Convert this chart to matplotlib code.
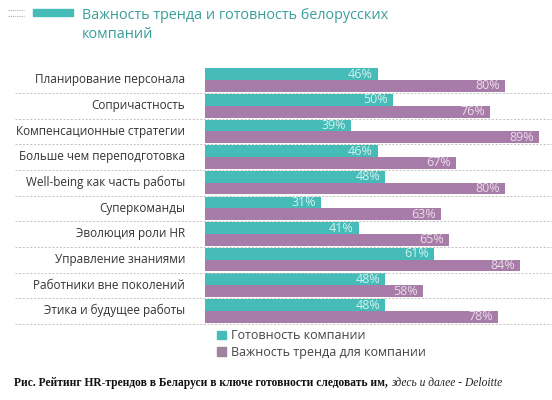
import numpy as np
import matplotlib.pyplot as plt
from matplotlib.patches import Patch
from matplotlib.transforms import blended_transform_factory

# data
categories = ['Планирование персонала', 'Сопричастность', 'Компенсационные стратегии',
              'Больше чем переподготовка', 'Well-being как часть работы', 'Суперкоманды',
              'Эволюция роли HR', 'Управление знаниями', 'Работники вне поколений',
              'Этика и будущее работы']
readiness = [46, 50, 39, 46, 48, 31, 41, 61, 48, 48]
importance = [80, 76, 89, 67, 80, 63, 65, 84, 58, 78]
series_names = ['Готовность компании', 'Важность тренда для компании']

teal = '#45bcb7'
purple = '#a87ca8'
plt.rcParams['font.family'] = ['Open Sans', 'DejaVu Sans']

fig = plt.figure(figsize=(5.52, 4), dpi=100)
ax = fig.add_axes([205/552, 1-324/400, 1-205/552, (324-67.5)/400])

y = np.arange(len(categories))
h = 0.46
ax.barh(y-0.24, readiness, height=h, color=teal)
ax.barh(y+0.22, importance, height=h, color=purple)
ax.set_xlim(0, 347/3.75)
ax.set_ylim(len(categories)-0.5, -0.5)
ax.axis('off')

for i in range(len(categories)):
    ax.text(readiness[i]-1.3, y[i]-0.24, f'{readiness[i]}%', ha='right', va='center',
            fontsize=9, color='#d6f0ef')
    ax.text(importance[i]-1.3, y[i]+0.22, f'{importance[i]}%', ha='right', va='center',
            fontsize=9, color='#eadcea', clip_on=False)
    ax.text(-20/3.75, y[i]-0.02, categories[i], ha='right', va='center',
            fontsize=8.5, color='#333333')

# dashed separators
tr = blended_transform_factory(ax.transAxes, ax.transData)
for i in range(len(categories)):
    ax.plot([-190/347, 1], [i+0.5, i+0.5], transform=tr, clip_on=False,
            color='#c0c0c0', lw=0.7, ls=(0, (2, 1.8)))

# header
fig.text(82/552, 1-8/400, 'Важность тренда и готовность белорусских\nкомпаний',
         ha='left', va='top', fontsize=10.4, color='#3a9e99', linespacing=1.35)
fig.patches.append(plt.Rectangle((33/552, 1-16/400), 40/552, 7/400,
                                 transform=fig.transFigure, color=teal))
for yy in [10, 16]:
    fig.lines.append(plt.Line2D([8/552, 24/552], [1-yy/400, 1-yy/400], transform=fig.transFigure,
                                color='#aaaaaa', lw=0.8, ls=(0, (1, 1))))

# legend
handles = [Patch(color=teal), Patch(color='#9f84a0')]
fig.legend(handles, series_names, loc='upper left', bbox_to_anchor=(206/552, 1-318/400),
           frameon=False, fontsize=9, handlelength=0.7, handleheight=0.7,
           handletextpad=0.4, labelspacing=0.3, labelcolor='#444444')

# caption
cap = fig.text(14/552, 1-383/400, 'Рис. Рейтинг HR-трендов в Беларуси в ключе готовности следовать им, ',
               ha='left', va='center', fontsize=8.3, fontweight='bold',
               family='Liberation Serif', color='#111111')
fig.canvas.draw()
bb = cap.get_window_extent()
fig.text(bb.x1/552, 1-383/400, 'здесь и далее - Deloitte', ha='left', va='center',
         fontsize=8.3, style='italic', family='Liberation Serif', color='#222222')

fig.savefig('out.png', dpi=100)
